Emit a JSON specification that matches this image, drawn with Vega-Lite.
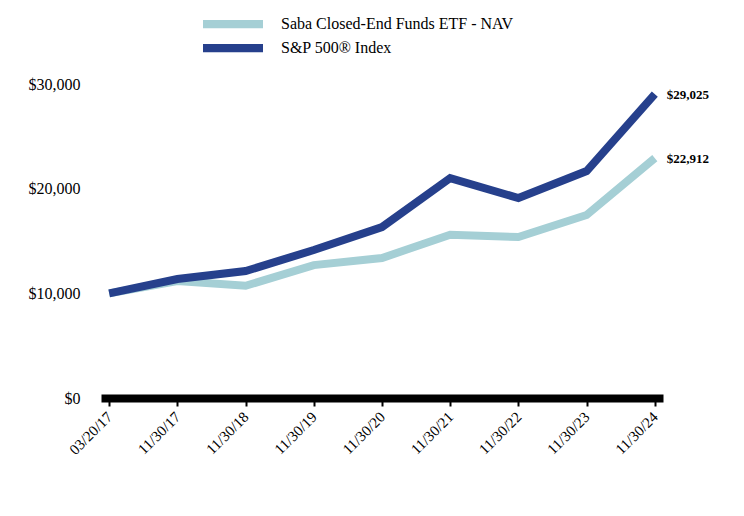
{
  "$schema": "https://vega.github.io/schema/vega-lite/v6.json",
  "autosize": "none",
  "width": 562,
  "height": 314,
  "padding": {"left": 101, "top": 84, "right": 81, "bottom": 118},
  "background": "white",
  "config": {
    "view": {"stroke": null},
    "font": "Liberation Serif"
  },
  "data": {
    "values": [
      {"date": "03/20/17", "series": "Saba Closed-End Funds ETF - NAV", "value": 10000},
      {"date": "11/30/17", "series": "Saba Closed-End Funds ETF - NAV", "value": 11180},
      {"date": "11/30/18", "series": "Saba Closed-End Funds ETF - NAV", "value": 10720},
      {"date": "11/30/19", "series": "Saba Closed-End Funds ETF - NAV", "value": 12700},
      {"date": "11/30/20", "series": "Saba Closed-End Funds ETF - NAV", "value": 13380},
      {"date": "11/30/21", "series": "Saba Closed-End Funds ETF - NAV", "value": 15600},
      {"date": "11/30/22", "series": "Saba Closed-End Funds ETF - NAV", "value": 15380},
      {"date": "11/30/23", "series": "Saba Closed-End Funds ETF - NAV", "value": 17480},
      {"date": "11/30/24", "series": "Saba Closed-End Funds ETF - NAV", "value": 22912},
      {"date": "03/20/17", "series": "S&P 500® Index", "value": 10000},
      {"date": "11/30/17", "series": "S&P 500® Index", "value": 11370},
      {"date": "11/30/18", "series": "S&P 500® Index", "value": 12130},
      {"date": "11/30/19", "series": "S&P 500® Index", "value": 14140},
      {"date": "11/30/20", "series": "S&P 500® Index", "value": 16330},
      {"date": "11/30/21", "series": "S&P 500® Index", "value": 21010},
      {"date": "11/30/22", "series": "S&P 500® Index", "value": 19100},
      {"date": "11/30/23", "series": "S&P 500® Index", "value": 21680},
      {"date": "11/30/24", "series": "S&P 500® Index", "value": 29025}
    ]
  },
  "encoding": {
    "x": {
      "field": "date",
      "type": "ordinal",
      "sort": null,
      "scale": {"type": "point", "padding": 0.12},
      "axis": {
        "title": null,
        "domainColor": "black",
        "domainWidth": 8,
        "tickColor": "black",
        "tickWidth": 2,
        "tickSize": 8,
        "labelAngle": -45,
        "labelAlign": "right",
        "labelBaseline": "middle",
        "labelFont": "Liberation Serif",
        "labelFontSize": 15,
        "labelColor": "black",
        "labelPadding": 8,
        "labelDx": 6,
        "grid": false
      }
    },
    "y": {
      "field": "value",
      "type": "quantitative",
      "scale": {"domain": [0, 30000], "nice": false},
      "axis": {
        "title": null,
        "values": [0, 10000, 20000, 30000],
        "format": "$,.0f",
        "domain": false,
        "ticks": false,
        "grid": false,
        "labelFont": "Liberation Serif",
        "labelFontSize": 16,
        "labelColor": "black",
        "labelPadding": 21
      }
    },
    "color": {
      "field": "series",
      "type": "nominal",
      "scale": {
        "domain": ["Saba Closed-End Funds ETF - NAV", "S&P 500® Index"],
        "range": ["#a5cfd5", "#26408c"]
      },
      "legend": {
        "title": null,
        "orient": "none",
        "legendX": 124,
        "legendY": -68,
        "symbolType": "M-4,-0.55H4V0.55H-4Z",
        "symbolSize": 225,
        "symbolStrokeWidth": 0,
        "symbolOpacity": 1,
        "labelFont": "Liberation Serif",
        "labelFontSize": 16,
        "labelColor": "black",
        "labelOffset": 40,
        "labelLimit": 0,
        "rowPadding": 8,
        "encode": {
          "symbols": {
            "update": {
              "fill": {"scale": "color", "field": "value"},
              "strokeWidth": {"value": 0}
            }
          }
        }
      }
    }
  },
  "layer": [
    {
      "mark": {"type": "line", "strokeWidth": 8, "strokeCap": "butt", "strokeJoin": "miter"}
    },
    {
      "transform": [{"filter": "datum.date == '11/30/24'"}],
      "mark": {"type": "text", "align": "left", "dx": 12, "dy": 1, "fontWeight": "bold", "fontSize": 13, "font": "Liberation Serif", "color": "black"},
      "encoding": {
        "text": {"field": "value", "type": "quantitative", "format": "$,.0f"},
        "color": {"value": "black"}
      }
    }
  ]
}
